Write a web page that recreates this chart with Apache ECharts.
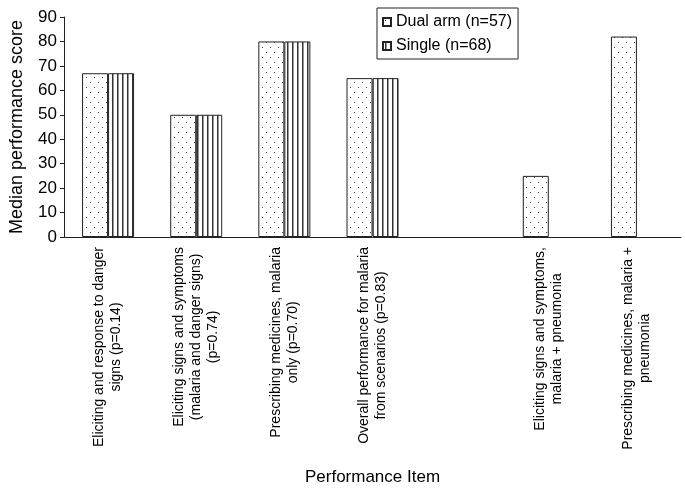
<!DOCTYPE html>
<html>
<head>
<meta charset="utf-8">
<script src="https://cdn.jsdelivr.net/npm/echarts@6/dist/echarts.min.js"></script>
<style>
html, body { margin: 0; padding: 0; background: #fff; }
#chart { width: 685px; height: 493px; }
</style>
</head>
<body>
<div id="chart"></div>
<script>
var categories = [
	"Eliciting and response to danger\nsigns (p=0.14)",
	"Eliciting signs and symptoms\n(malaria and danger signs)\n(p=0.74)",
	"Prescribing medicines, malaria\nonly (p=0.70)",
	"Overall performance for malaria\nfrom scenarios (p=0.83)",
	"",
	"Eliciting signs and symptoms,\nmalaria + pneumonia",
	"Prescribing medicines, malaria +\npneumonia"
];
var dualArm = [67, 50, 80, 65, null, 25, 82];
var single = [67, 50, 80, 65, null, null, null];

var font = "Liberation Sans";

// fill patterns, drawn on small canvases
function dotPattern() {
	var c = document.createElement("canvas");
	c.width = 8; c.height = 10;
	var ctx = c.getContext("2d");
	ctx.fillStyle = "#fff";
	ctx.fillRect(0, 0, 8, 10);
	ctx.fillStyle = "#444";
	ctx.fillRect(2, 2, 1, 1);
	ctx.fillRect(6, 7, 1, 1);
	return c;
}
function linePattern() {
	var c = document.createElement("canvas");
	c.width = 5; c.height = 5;
	var ctx = c.getContext("2d");
	ctx.fillStyle = "#fff";
	ctx.fillRect(0, 0, 5, 5);
	ctx.fillStyle = "#333";
	ctx.fillRect(2, 0, 1.5, 5);
	return c;
}

var chart = echarts.init(document.getElementById("chart"));
chart.setOption({
	animation: false,
	backgroundColor: "#fff",
	grid: { left: 63, right: 4, top: 17, bottom: 256 },
	legend: {
		orient: "vertical",
		left: 377,
		top: 8,
		padding: [6, 6, 5, 5],
		itemGap: 8,
		itemWidth: 8,
		itemHeight: 8,
		borderColor: "#222",
		borderWidth: 1,
		textStyle: { fontFamily: font, fontSize: 16, color: "#000" },
		data: [{ name: "Dual arm (n=57)", icon: "rect" }, { name: "Single (n=68)", icon: "rect" }]
	},
	xAxis: {
		type: "category",
		data: categories,
		name: "Performance Item",
		nameLocation: "middle",
		nameGap: 232,
		nameTextStyle: { fontFamily: font, fontSize: 17, color: "#000" },
		axisLine: { lineStyle: { color: "#222" } },
		axisTick: { length: 5, lineStyle: { color: "#222" } },
		axisLabel: {
			interval: 0,
			rotate: 90,
			margin: 10,
			color: "#000",
			fontFamily: font,
			fontSize: 14,
			lineHeight: 17,
			formatter: function (v) {
				if (!v) return "";
				return v.split("\n").map(function (l) { return "{c|" + l + "}"; }).join("\n");
			},
			rich: { c: { align: "center", fontFamily: font, fontSize: 14, lineHeight: 17, color: "#000" } }
		}
	},
	yAxis: {
		type: "value",
		min: 0,
		max: 90,
		interval: 10,
		name: "Median performance score",
		nameLocation: "middle",
		nameGap: 38,
		nameTextStyle: { fontFamily: font, fontSize: 18, color: "#000" },
		axisLine: { show: true, lineStyle: { color: "#222" } },
		axisTick: { show: true, length: 4, lineStyle: { color: "#222" } },
		splitLine: { show: false },
		axisLabel: { fontFamily: font, fontSize: 17, color: "#000", margin: 7 }
	},
	series: [
		{
			name: "Dual arm (n=57)",
			type: "bar",
			data: dualArm,
			barWidth: 26,
			barGap: "0%",
			itemStyle: { color: { image: dotPattern(), repeat: "repeat" }, borderColor: "#222", borderWidth: 1 }
		},
		{
			name: "Single (n=68)",
			type: "bar",
			data: single,
			barWidth: 26,
			barGap: "0%",
			itemStyle: { color: { image: linePattern(), repeat: "repeat" }, borderColor: "#222", borderWidth: 1 }
		}
	]
});
</script>
</body>
</html>
